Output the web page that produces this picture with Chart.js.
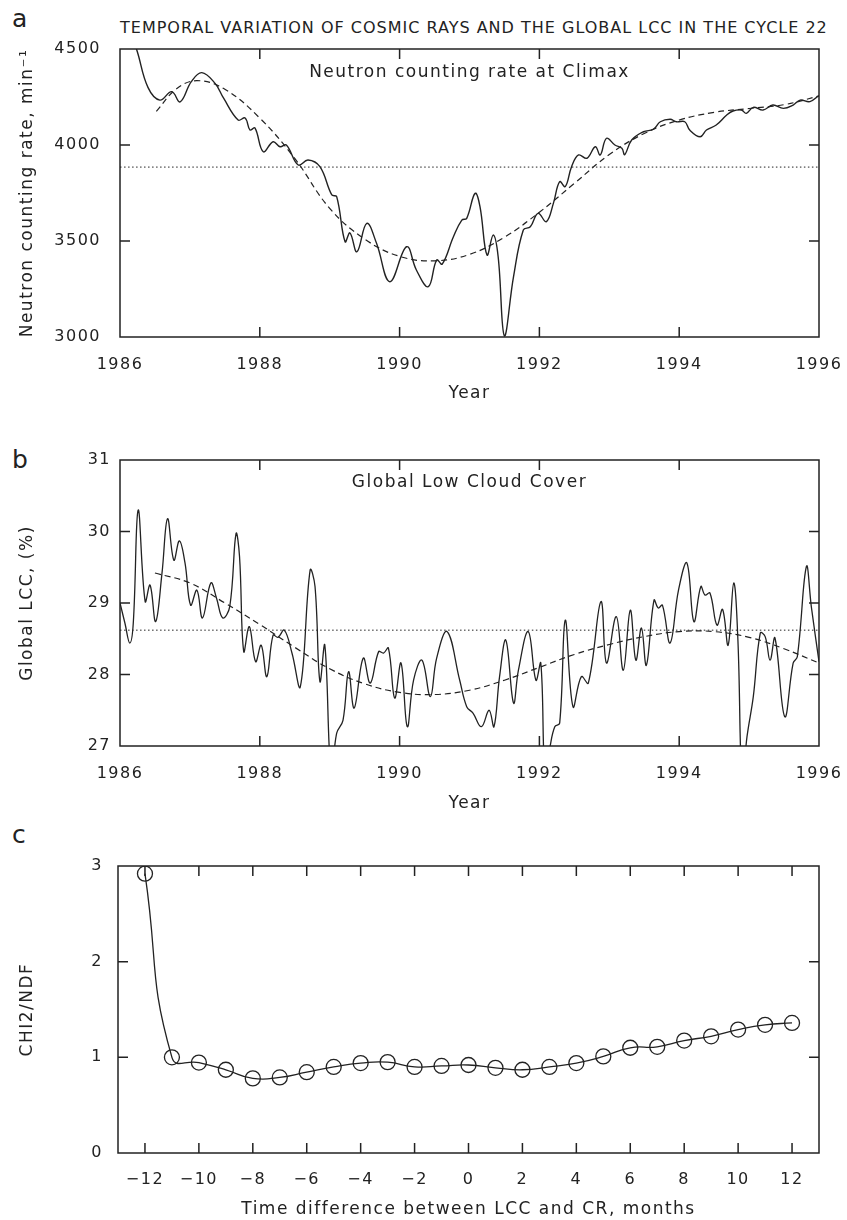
<!DOCTYPE html>
<html>
<head>
<meta charset="utf-8">
<script src="https://cdn.jsdelivr.net/npm/chart.js@4.4.0/dist/chart.umd.min.js"></script>
<style>
  body { margin: 0; background: #fff; }
  #wrap { position: relative; width: 847px; height: 1220px; font-family: "DejaVu Sans"; color: #222; }
  .tag { position: absolute; left: 12px; font-size: 25px; line-height: 25px; }
  #title { position: absolute; left: 120px; top: 18px; font-size: 16px; line-height: 19px; letter-spacing: 1px; white-space: nowrap; }
  canvas { position: absolute; left: 0; }
</style>
</head>
<body>
<div id="wrap">
  <div class="tag" style="top:6px">a</div>
  <div class="tag" style="top:447px">b</div>
  <div class="tag" style="top:822px">c</div>
  <div id="title">TEMPORAL VARIATION OF COSMIC RAYS AND THE GLOBAL LCC IN THE CYCLE 22</div>
  <canvas id="crChart" width="847" height="410" style="top:0"></canvas>
  <canvas id="lccChart" width="847" height="410" style="top:410px"></canvas>
  <canvas id="chiChart" width="847" height="400" style="top:820px"></canvas>
</div>
<script>
// Climax neutron monitor, counting rate (min^-1)
var crYears = [1986.00, 1986.12, 1986.24, 1986.40, 1986.57, 1986.74, 1986.86, 1987.02, 1987.17, 1987.36,
  1987.48, 1987.69, 1987.79, 1987.86, 1987.93, 1988.05, 1988.19, 1988.29, 1988.38, 1988.55,
  1988.69, 1988.86, 1989.03, 1989.10, 1989.22, 1989.29, 1989.39, 1989.53, 1989.67, 1989.86,
  1990.10, 1990.24, 1990.41, 1990.53, 1990.61, 1990.77, 1990.89, 1990.96, 1991.08, 1991.15,
  1991.25, 1991.34, 1991.41, 1991.50, 1991.63, 1991.77, 1991.87, 1991.98, 1992.10, 1992.20,
  1992.29, 1992.37, 1992.46, 1992.56, 1992.68, 1992.80, 1992.87, 1992.96, 1993.08, 1993.18,
  1993.22, 1993.32, 1993.49, 1993.63, 1993.73, 1993.87, 1993.96, 1994.08, 1994.15, 1994.30,
  1994.39, 1994.53, 1994.68, 1994.77, 1994.89, 1994.96, 1995.06, 1995.20, 1995.34, 1995.49,
  1995.63, 1995.73, 1995.87, 1996.00];
var crRate = [4800, 4610, 4495, 4300, 4234, 4278, 4225, 4330, 4377, 4321,
  4245, 4130, 4141, 4078, 4089, 3965, 4017, 3991, 4000, 3896,
  3922, 3887, 3740, 3731, 3496, 3542, 3444, 3592, 3488, 3288,
  3470, 3349, 3262, 3401, 3380, 3522, 3609, 3618, 3748, 3679,
  3427, 3531, 3418, 3005, 3314, 3557, 3574, 3644, 3601, 3696,
  3809, 3783, 3887, 3948, 3931, 3991, 3948, 4035, 4000, 3983,
  3950, 4026, 4069, 4082, 4121, 4134, 4121, 4121, 4078, 4043,
  4078, 4104, 4156, 4177, 4182, 4165, 4196, 4182, 4208, 4191,
  4208, 4234, 4226, 4258];
// fitted curve (dashed) and mean level (dotted)
var crFitYears = [1986.52, 1986.8, 1987.1, 1987.5, 1988.0, 1988.5, 1989.0, 1989.5, 1990.0, 1990.5,
  1991.0, 1991.5, 1992.0, 1992.5, 1993.0, 1993.5, 1994.0, 1994.5, 1995.0, 1995.5, 1996.0];
var crFitRate = [4175, 4290, 4335, 4290, 4140, 3930, 3670, 3510, 3420, 3397,
  3430, 3520, 3650, 3800, 3950, 4060, 4130, 4170, 4190, 4210, 4255];
var crMean = 3885;

// Global low cloud cover (%)
var lccYears = [1986.00, 1986.07, 1986.14, 1986.19, 1986.26, 1986.36, 1986.43, 1986.51, 1986.60, 1986.68,
  1986.77, 1986.85, 1986.93, 1987.01, 1987.10, 1987.18, 1987.30, 1987.38, 1987.47, 1987.57,
  1987.66, 1987.71, 1987.77, 1987.85, 1987.94, 1988.02, 1988.10, 1988.19, 1988.26, 1988.35,
  1988.46, 1988.58, 1988.72, 1988.79, 1988.86, 1988.93, 1989.02, 1989.10, 1989.19, 1989.27,
  1989.35, 1989.48, 1989.58, 1989.70, 1989.77, 1989.84, 1989.93, 1990.02, 1990.11, 1990.20,
  1990.32, 1990.44, 1990.53, 1990.68, 1990.86, 1990.96, 1991.05, 1991.17, 1991.28, 1991.35,
  1991.43, 1991.52, 1991.63, 1991.70, 1991.84, 1991.95, 1992.02, 1992.08, 1992.15, 1992.22,
  1992.29, 1992.37, 1992.48, 1992.60, 1992.70, 1992.88, 1992.96, 1993.10, 1993.20, 1993.30,
  1993.38, 1993.46, 1993.53, 1993.64, 1993.70, 1993.76, 1993.87, 1993.99, 1994.11, 1994.21,
  1994.31, 1994.37, 1994.44, 1994.54, 1994.62, 1994.70, 1994.78, 1994.84, 1994.90, 1994.97,
  1995.06, 1995.16, 1995.23, 1995.30, 1995.37, 1995.51, 1995.63, 1995.69, 1995.82, 1995.89,
  1996.00];
var lccValues = [29.00, 28.72, 28.44, 28.72, 30.30, 29.02, 29.25, 28.74, 29.41, 30.18,
  29.60, 29.87, 29.56, 28.97, 29.18, 28.79, 29.28, 29.07, 28.79, 28.95,
  29.97, 29.65, 28.32, 28.67, 28.18, 28.41, 27.97, 28.55, 28.52, 28.62,
  28.30, 27.83, 29.46, 29.23, 27.90, 28.41, 26.60, 27.18, 27.36, 28.04,
  27.53, 28.23, 27.88, 28.32, 28.30, 28.37, 27.67, 28.16, 27.27, 27.92,
  28.20, 27.69, 28.23, 28.60, 27.92, 27.55, 27.46, 27.27, 27.50, 27.27,
  27.97, 28.48, 27.60, 28.06, 28.60, 27.92, 28.16, 26.60, 26.98, 27.27,
  27.32, 28.76, 27.55, 27.97, 27.88, 29.02, 28.16, 28.81, 28.06, 28.90,
  28.20, 28.65, 28.13, 29.04, 28.93, 28.97, 28.44, 29.18, 29.56, 28.74,
  29.23, 29.11, 29.14, 28.69, 28.91, 28.41, 29.28, 28.48, 26.50, 27.13,
  27.69, 28.58, 28.53, 28.20, 28.51, 27.41, 28.16, 28.25, 29.51, 28.95,
  28.18];
var lccFitYears = [1986.5, 1987.0, 1987.5, 1988.0, 1988.5, 1989.0, 1989.5, 1990.0, 1990.5, 1991.0,
  1991.5, 1992.0, 1992.5, 1993.0, 1993.5, 1994.0, 1994.5, 1995.0, 1995.5, 1996.0];
var lccFitValues = [29.42, 29.28, 29.00, 28.70, 28.38, 28.08, 27.87, 27.75, 27.72, 27.78,
  27.92, 28.10, 28.28, 28.42, 28.53, 28.60, 28.60, 28.52, 28.36, 28.16];
var lccMean = 28.62;

// CHI2/NDF against the time shift
var lagMonths = [-12, -11, -10, -9, -8, -7, -6, -5, -4, -3, -2, -1, 0, 1, 2, 3, 4, 5, 6, 7, 8, 9, 10, 11, 12];
var chi2ndf = [2.92, 1.00, 0.945, 0.87, 0.78, 0.79, 0.845, 0.90, 0.94, 0.95, 0.90, 0.91, 0.92,
  0.89, 0.87, 0.90, 0.94, 1.01, 1.10, 1.11, 1.175, 1.22, 1.29, 1.34, 1.36];

// tick labels
var yearTicks = [1986, 1988, 1990, 1992, 1994, 1996];
var crTicks = [3000, 3500, 4000, 4500];
var lccTicks = [27, 28, 29, 30, 31];
var chiTicks = [0, 1, 2, 3];
var lagTicks = [-12, -10, -8, -6, -4, -2, 0, 2, 4, 6, 8, 10, 12];

var ink = '#222';
var font16 = { family: 'DejaVu Sans', size: 16 };
var font17 = { family: 'DejaVu Sans', size: 17 };

function xy(xs, ys) {
  return xs.map(function(x, i) { return { x: x, y: ys[i] }; });
}

function etiqueta(v) {
  return v < 0 ? '\u2212' + Math.abs(v) : String(v);
}

// caja del grafico con marcas hacia dentro, y texto interior
var marco = {
  id: 'marco',
  beforeDraw: function(chart) {
    chart.ctx.letterSpacing = '1.5px';
  },
  afterDraw: function(chart, args, opts) {
    var ctx = chart.ctx, a = chart.chartArea, sx = chart.scales.x, sy = chart.scales.y;
    ctx.save();
    ctx.strokeStyle = ink;
    ctx.lineWidth = 1.5;
    ctx.strokeRect(a.left, a.top, a.right - a.left, a.bottom - a.top);
    ctx.beginPath();
    sx.ticks.forEach(function(t) {
      var px = sx.getPixelForValue(t.value);
      if (px < a.left + 2 || px > a.right - 2) return;
      ctx.moveTo(px, a.bottom); ctx.lineTo(px, a.bottom - 10);
      ctx.moveTo(px, a.top); ctx.lineTo(px, a.top + 10);
    });
    sy.ticks.forEach(function(t) {
      var py = sy.getPixelForValue(t.value);
      if (py < a.top + 2 || py > a.bottom - 2) return;
      ctx.moveTo(a.left, py); ctx.lineTo(a.left + 10, py);
      ctx.moveTo(a.right, py); ctx.lineTo(a.right - 10, py);
    });
    ctx.stroke();
    if (opts.text) {
      ctx.fillStyle = ink;
      ctx.font = '17px "DejaVu Sans"';
      ctx.textAlign = 'center';
      ctx.textBaseline = 'middle';
      ctx.fillText(opts.text, (a.left + a.right) / 2, a.top + opts.dy);
    }
    ctx.restore();
  }
};

function escalas(c) {
  return {
    x: {
      type: 'linear', min: c.xmin, max: c.xmax,
      grid: { display: false }, border: { display: false },
      afterBuildTicks: function(s) { s.ticks = c.xticks.map(function(v) { return { value: v }; }); },
      afterFit: function(s) { s.height = c.xh; s.paddingLeft = 0; s.paddingRight = 0; },
      ticks: { autoSkip: false, maxRotation: 0, color: ink, font: font16, padding: c.xpad, callback: etiqueta },
      title: { display: true, text: c.xtitle, color: ink, font: font17, padding: { top: 0, bottom: c.xtpad } }
    },
    y: {
      type: 'linear', min: c.ymin, max: c.ymax,
      grid: { display: false }, border: { display: false },
      afterBuildTicks: function(s) { s.ticks = c.yticks.map(function(v) { return { value: v }; }); },
      afterFit: function(s) { s.width = c.yw; s.paddingTop = 0; s.paddingBottom = 0; },
      ticks: { color: ink, font: font16, padding: c.ypad, callback: etiqueta },
      title: { display: true, text: c.ytitle, color: ink, font: font17, padding: { top: 17, bottom: 0 } }
    }
  };
}

function linea(data, dash, width) {
  return {
    data: data, borderColor: ink, borderWidth: width, borderDash: dash,
    pointRadius: 0, tension: 0.4, fill: false
  };
}

var comunes = {
  responsive: false, animation: false,
  plugins: { legend: { display: false }, tooltip: { enabled: false } }
};

new Chart(document.getElementById('crChart'), {
  type: 'line',
  data: {
    datasets: [
      linea([{ x: 1986, y: crMean }, { x: 1996, y: crMean }], [1.5, 2.5], 1),
      linea(xy(crFitYears, crFitRate), [6, 4], 1.2),
      linea(xy(crYears, crRate), [], 1.4)
    ]
  },
  options: Object.assign({}, comunes, {
    layout: { padding: { left: 0, right: 28, top: 49, bottom: 0 } },
    scales: escalas({
      xmin: 1986, xmax: 1996, xticks: yearTicks, xh: 73, xpad: 10, xtitle: 'Year', xtpad: 6,
      ymin: 3000, ymax: 4500, yticks: crTicks, yw: 120, ypad: 11,
      ytitle: 'Neutron counting rate, min\u207B\u00B9'
    }),
    plugins: Object.assign({}, comunes.plugins, { marco: { text: 'Neutron counting rate at Climax', dy: 24 } })
  }),
  plugins: [marco]
});

new Chart(document.getElementById('lccChart'), {
  type: 'line',
  data: {
    datasets: [
      linea([{ x: 1986, y: lccMean }, { x: 1996, y: lccMean }], [1.5, 2.5], 1),
      linea(xy(lccFitYears, lccFitValues), [6, 4], 1.2),
      linea(xy(lccYears, lccValues), [], 1.3)
    ]
  },
  options: Object.assign({}, comunes, {
    layout: { padding: { left: 0, right: 28, top: 50, bottom: 0 } },
    scales: escalas({
      xmin: 1986, xmax: 1996, xticks: yearTicks, xh: 74, xpad: 10, xtitle: 'Year', xtpad: 6,
      ymin: 27, ymax: 31, yticks: lccTicks, yw: 120, ypad: 1,
      ytitle: 'Global LCC, (%)'
    }),
    plugins: Object.assign({}, comunes.plugins, { marco: { text: 'Global Low Cloud Cover', dy: 23 } })
  }),
  plugins: [marco]
});

new Chart(document.getElementById('chiChart'), {
  type: 'line',
  data: {
    datasets: [{
      data: xy(lagMonths, chi2ndf), borderColor: ink, borderWidth: 1.3, tension: 0.5, fill: false,
      pointStyle: 'circle', pointRadius: 7.5, pointBorderWidth: 1.3,
      pointBorderColor: ink, pointBackgroundColor: 'rgba(0,0,0,0)'
    }]
  },
  options: Object.assign({}, comunes, {
    layout: { padding: { left: 0, right: 28, top: 46, bottom: 0 } },
    scales: escalas({
      xmin: -13, xmax: 13, xticks: lagTicks, xh: 67, xpad: 9,
      xtitle: 'Time difference between LCC and CR, months', xtpad: 0,
      ymin: 0, ymax: 3, yticks: chiTicks, yw: 118, ypad: 7,
      ytitle: 'CHI2/NDF'
    }),
    plugins: Object.assign({}, comunes.plugins, { marco: { text: '', dy: 0 } })
  }),
  plugins: [marco]
});
</script>
</body>
</html>
